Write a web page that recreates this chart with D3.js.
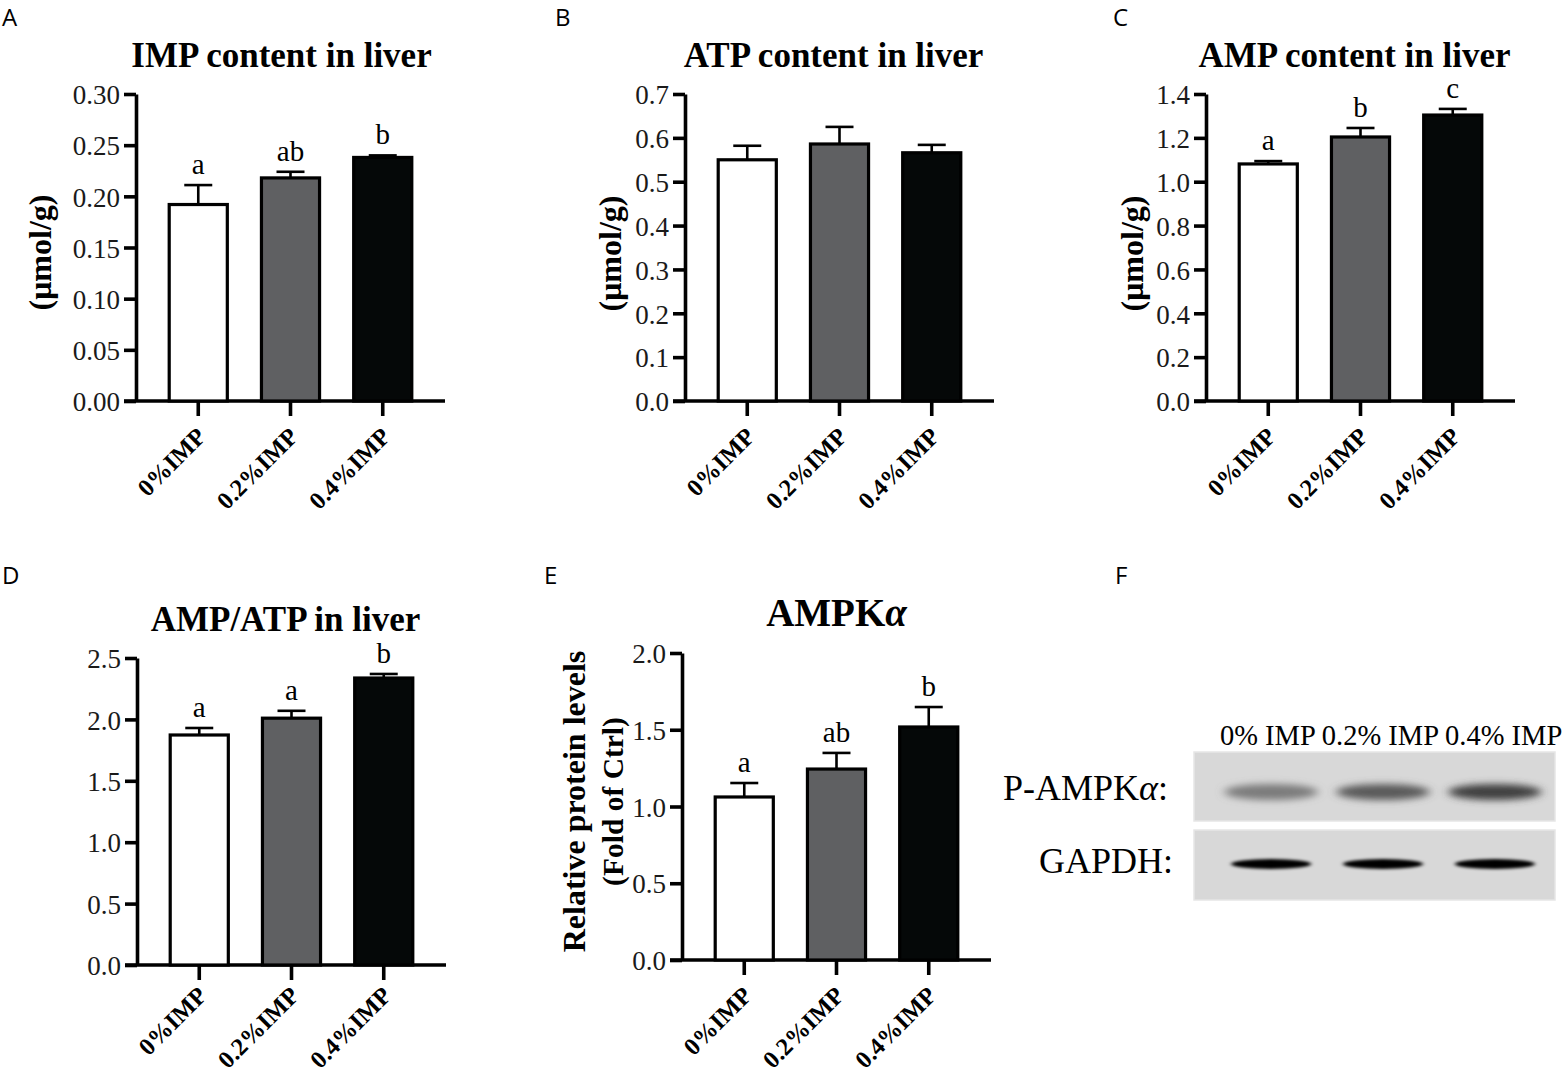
<!DOCTYPE html>
<html>
<head>
<meta charset="utf-8">
<script src="https://cdn.jsdelivr.net/npm/d3@7/dist/d3.min.js"></script>
<style>
  body { margin: 0; background: #fff; }
  svg text { font-family: "Liberation Serif", "Times New Roman", serif; }
  .panel-letter { font-family: "Open Sans", "Noto Sans", sans-serif; font-size: 24px; }
</style>
</head>
<body>
<svg id="fig" width="1568" height="1073"></svg>
<script>
// ---- data ----
const groups = ['0%IMP', '0.2%IMP', '0.4%IMP'];

const impMean = [0.192, 0.218, 0.238];
const impSd = [0.019, 0.006, 0.002];
const impLetters = ['a', 'ab', 'b'];
const impTicks = [0, 0.05, 0.10, 0.15, 0.20, 0.25, 0.30];

const atpMean = [0.550, 0.586, 0.566];
const atpSd = [0.032, 0.039, 0.018];
const atpLetters = ['', '', ''];
const atpTicks = [0, 0.1, 0.2, 0.3, 0.4, 0.5, 0.6, 0.7];

const ampMean = [1.081, 1.204, 1.304];
const ampSd = [0.013, 0.041, 0.028];
const ampLetters = ['a', 'b', 'c'];
const ampTicks = [0, 0.2, 0.4, 0.6, 0.8, 1.0, 1.2, 1.4];

const ratioMean = [1.873, 2.010, 2.337];
const ratioSd = [0.057, 0.060, 0.033];
const ratioLetters = ['a', 'a', 'b'];
const ratioTicks = [0, 0.5, 1.0, 1.5, 2.0, 2.5];

const ampkMean = [1.062, 1.244, 1.518];
const ampkSd = [0.091, 0.105, 0.130];
const ampkLetters = ['a', 'ab', 'b'];
const ampkTicks = [0, 0.5, 1.0, 1.5, 2.0];

// western blot (panel F): lane names and relative band darkness
const blotLanes = ['0% IMP', '0.2% IMP', '0.4% IMP'];
const pAmpkBand = [0.42, 0.58, 0.70];
const gapdhBand = [0.97, 0.97, 0.98];

const barFills = ['#ffffff', '#5f6062', '#050808'];

class BarPanel {

    constructor(_config, _data) {
        this.config = {
            parentElement: _config.parentElement,
            left: _config.left,
            top: _config.top,
            width: _config.width || 309,
            height: _config.height || 307,
            yMax: _config.yMax,
            ticks: _config.ticks,
            tickFormat: _config.tickFormat || d3.format('.1f'),
            title: _config.title,
            titleSize: _config.titleSize || 35,
            titleDx: _config.titleDx || 0,
            yLabel: _config.yLabel || [],
            yLabelOffsets: _config.yLabelOffsets || [],
            yLabelSizes: _config.yLabelSizes || [32],
            yLabelShift: _config.yLabelShift || 0,
            xLabelDrop: _config.xLabelDrop || 37,
            letter: _config.letter,
            letterPos: _config.letterPos
        };
        this.data = _data;
        this.initVis();
    }

    initVis() {
        let vis = this;
        const c = vis.config;

        vis.xScale = d3.scaleBand()
            .domain(groups)
            .range([0, c.width])
            .paddingInner(0.37)
            .paddingOuter(0.36);

        vis.yScale = d3.scaleLinear()
            .domain([0, c.yMax])
            .range([c.height, 0]);

        vis.svg = d3.select(c.parentElement);

        vis.svg.append('text')
            .attr('class', 'panel-letter')
            .attr('x', c.letterPos[0])
            .attr('y', c.letterPos[1])
            .text(c.letter);

        vis.chart = vis.svg.append('g')
            .attr('transform', `translate(${c.left},${c.top})`);

        vis.chart.append('text')
            .attr('x', c.width / 2 - 6 + c.titleDx)
            .attr('y', -27)
            .attr('text-anchor', 'middle')
            .style('font-weight', 'bold')
            .style('font-size', c.titleSize + 'px')
            .html(c.title);

        // y axis title, may be two lines
        c.yLabel.forEach((line, i) => {
            vis.chart.append('text')
                .attr('transform', `translate(${-c.yLabelOffsets[i]},${c.height / 2 + c.yLabelShift}) rotate(-90)`)
                .attr('text-anchor', 'middle')
                .style('font-weight', 'bold')
                .style('font-size', c.yLabelSizes[i] + 'px')
                .text(line);
        });

        vis.yAxisG = vis.chart.append('g').attr('class', 'axis y-axis');
        vis.xAxisG = vis.chart.append('g')
            .attr('class', 'axis x-axis')
            .attr('transform', `translate(0,${c.height})`);

        vis.renderVis();
    }

    renderVis() {
        let vis = this;
        const c = vis.config;
        const x = vis.xScale, y = vis.yScale;

        // error bars (upper only)
        const err = vis.chart.selectAll('.err')
            .data(vis.data)
            .join('g')
            .attr('class', 'err')
            .attr('stroke', '#000')
            .attr('stroke-width', 2.6);
        err.append('line')
            .attr('x1', d => x(d.group) + x.bandwidth() / 2)
            .attr('x2', d => x(d.group) + x.bandwidth() / 2)
            .attr('y1', d => y(d.mean))
            .attr('y2', d => y(d.mean + d.sd));
        err.append('line')
            .attr('x1', d => x(d.group) + x.bandwidth() / 2 - 14)
            .attr('x2', d => x(d.group) + x.bandwidth() / 2 + 14)
            .attr('y1', d => y(d.mean + d.sd))
            .attr('y2', d => y(d.mean + d.sd));

        vis.chart.selectAll('.bar')
            .data(vis.data)
            .join('rect')
            .attr('class', 'bar')
            .attr('x', d => x(d.group))
            .attr('width', x.bandwidth())
            .attr('y', d => y(d.mean))
            .attr('height', d => c.height - y(d.mean))
            .attr('fill', (d, i) => barFills[i])
            .attr('stroke', '#000')
            .attr('stroke-width', 3.2);

        vis.chart.selectAll('.sig')
            .data(vis.data)
            .join('text')
            .attr('class', 'sig')
            .attr('x', d => x(d.group) + x.bandwidth() / 2)
            .attr('y', d => y(d.mean + d.sd) - 11)
            .attr('text-anchor', 'middle')
            .style('font-size', '29px')
            .text(d => d.letter);

        // y axis
        vis.yAxisG.call(d3.axisLeft(y)
            .tickValues(c.ticks)
            .tickSize(12)
            .tickSizeOuter(0)
            .tickPadding(4)
            .tickFormat(c.tickFormat));
        vis.yAxisG.select('.domain').attr('stroke-width', 3.6);
        vis.yAxisG.selectAll('.tick line').attr('stroke-width', 3.6);
        vis.yAxisG.selectAll('.tick text')
            .attr('dy', '0.36em')
            .style('font-size', '27px')
            .style('font-family', '"Liberation Serif", serif')
            .attr('fill', '#1a1a1a');

        // x axis with rotated labels
        vis.xAxisG.call(d3.axisBottom(x).tickSize(15).tickSizeOuter(0));
        vis.xAxisG.select('.domain').remove();
        vis.xAxisG.selectAll('.tick line').attr('stroke-width', 3.6);
        vis.xAxisG.selectAll('.tick text')
            .attr('x', 0).attr('y', 0).attr('dy', 0)
            .attr('transform', `translate(9,${c.xLabelDrop}) rotate(-45)`)
            .attr('text-anchor', 'end')
            .style('font-size', '24.5px')
            .style('font-weight', 'bold')
            .style('font-family', '"Liberation Serif", serif')
            .attr('fill', '#000');
        vis.xAxisG.append('line')
            .attr('x1', -12).attr('x2', c.width)
            .attr('stroke', '#000')
            .attr('stroke-width', 3.6);
    }
}

const rows = (mean, sd, letters) => groups.map((g, i) => ({ group: g, mean: mean[i], sd: sd[i], letter: letters[i] }));

new BarPanel({
    parentElement: '#fig', left: 136, top: 94, yMax: 0.30, ticks: impTicks,
    tickFormat: d3.format('.2f'), title: 'IMP content in liver', titleDx: -3,
    yLabel: ['(μmol/g)'], yLabelOffsets: [85], yLabelShift: 5, letter: 'A', letterPos: [2, 26]
}, rows(impMean, impSd, impLetters));

new BarPanel({
    parentElement: '#fig', left: 685, top: 94, yMax: 0.7, ticks: atpTicks,
    title: 'ATP content in liver',
    yLabel: ['(μmol/g)'], yLabelOffsets: [64], yLabelShift: 6, letter: 'B', letterPos: [555, 26]
}, rows(atpMean, atpSd, atpLetters));

new BarPanel({
    parentElement: '#fig', left: 1206, top: 94, yMax: 1.4, ticks: ampTicks,
    title: 'AMP content in liver',
    yLabel: ['(μmol/g)'], yLabelOffsets: [63], yLabelShift: 6, letter: 'C', letterPos: [1113, 26]
}, rows(ampMean, ampSd, ampLetters));

new BarPanel({
    parentElement: '#fig', left: 137, top: 658, yMax: 2.5, ticks: ratioTicks,
    title: 'AMP/ATP in liver', letter: 'D', letterPos: [2, 584], xLabelDrop: 32
}, rows(ratioMean, ratioSd, ratioLetters));

new BarPanel({
    parentElement: '#fig', left: 682, top: 653, yMax: 2.0, ticks: ampkTicks,
    title: 'AMPK<tspan font-style="italic">α</tspan>', titleSize: 39, titleDx: 6,
    yLabel: ['Relative protein levels', '(Fold of Ctrl)'], yLabelOffsets: [97, 59],
    yLabelSizes: [32, 29.5], yLabelShift: -5,
    letter: 'E', letterPos: [544, 584]
}, rows(ampkMean, ampkSd, ampkLetters));

// ---- panel F: western blot ----
(function drawBlot() {
    const svg = d3.select('#fig');
    const defs = svg.append('defs');
    defs.append('filter').attr('id', 'soft').attr('x', '-30%').attr('y', '-100%').attr('width', '160%').attr('height', '300%')
        .append('feGaussianBlur').attr('stdDeviation', '5 3.5');
    defs.append('filter').attr('id', 'sharp').attr('x', '-30%').attr('y', '-100%').attr('width', '160%').attr('height', '300%')
        .append('feGaussianBlur').attr('stdDeviation', '2.2 1.4');

    svg.append('text').attr('class', 'panel-letter').attr('x', 1115).attr('y', 584).text('F');

    const blotX = d3.scalePoint().domain(blotLanes).range([1204, 1562]).padding(0.6);
    const shade = d3.interpolateRgb('#d6d6d6', '#000');

    svg.append('text')
        .attr('x', 1220).attr('y', 745)
        .style('font-size', '28.5px')
        .text(blotLanes.join(' '));

    const strips = [
        { y: 752, h: 69, bands: pAmpkBand, by: 792, rx: 47, ry: 8, filter: 'soft' },
        { y: 830, h: 70, bands: gapdhBand, by: 864, rx: 40, ry: 5, filter: 'sharp' }
    ];

    strips.forEach(s => {
        svg.append('rect')
            .attr('x', 1194).attr('y', s.y)
            .attr('width', 361).attr('height', s.h)
            .attr('fill', '#d8d8d8')
            .attr('stroke', '#e6e6e6').attr('stroke-width', 1.5);
        const g = svg.append('g').attr('filter', `url(#${s.filter})`);
        g.selectAll('ellipse')
            .data(blotLanes)
            .join('ellipse')
            .attr('cx', d => blotX(d))
            .attr('cy', s.by)
            .attr('rx', s.rx)
            .attr('ry', s.ry)
            .attr('fill', (d, i) => shade(s.bands[i]));
    });

    svg.append('text')
        .attr('x', 1168).attr('y', 800)
        .attr('text-anchor', 'end')
        .style('font-size', '36px')
        .html('P-AMPK<tspan font-style="italic">α</tspan>:');
    svg.append('text')
        .attr('x', 1173).attr('y', 873)
        .attr('text-anchor', 'end')
        .style('font-size', '36px')
        .text('GAPDH:');
})();
</script>
</body>
</html>
